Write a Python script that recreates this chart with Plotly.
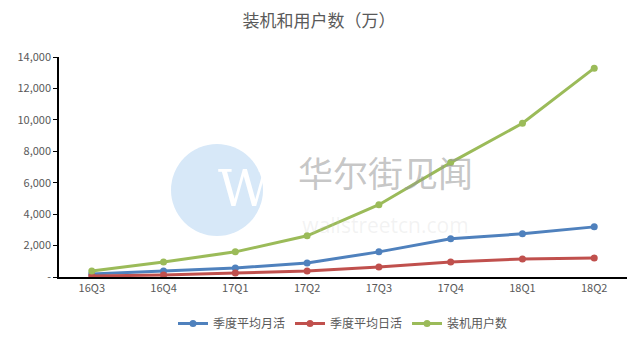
import plotly.graph_objects as go

quarters = ["16Q3", "16Q4", "17Q1", "17Q2", "17Q3", "17Q4", "18Q1", "18Q2"]
monthly_active = [190, 380, 575, 895, 1600, 2430, 2750, 3190]
daily_active = [60, 130, 250, 380, 640, 960, 1150, 1210]
installed_users = [380, 960, 1600, 2620, 4600, 7280, 9780, 13290]

y_ticks = [0, 2000, 4000, 6000, 8000, 10000, 12000, 14000]
y_tick_text = ["-", "2,000", "4,000", "6,000", "8,000", "10,000", "12,000", "14,000"]

series = [
    ("季度平均月活", monthly_active, "#4F81BD"),
    ("季度平均日活", daily_active, "#C0504D"),
    ("装机用户数", installed_users, "#9BBB59"),
]

font_family = "Noto Sans CJK SC, Microsoft YaHei, sans-serif"
text_color = "#595959"

# plot area in pixels
L, R, T, B = 59, 627, 57, 277
W_PX, H_PX = R - L, B - T


def px(x):
    return (x - L) / W_PX


def py(y):
    return (B - y) / H_PX


fig = go.Figure()
for name, values, color in series:
    fig.add_trace(go.Scatter(
        x=quarters, y=values, name=name, mode="lines+markers",
        line=dict(color=color, width=3),
        marker=dict(color=color, size=7),
    ))

# watermark: logo disc and two-line site name
fig.add_shape(type="circle", xref="paper", yref="paper",
              x0=px(171), x1=px(263), y0=py(236), y1=py(144),
              fillcolor="#d7e8f8", line=dict(width=0), layer="below")
fig.add_annotation(text="W", xref="paper", yref="paper",
                   x=px(216), y=py(189), showarrow=False,
                   font=dict(size=50, color="white", family="DejaVu Serif"))
fig.add_annotation(
    text=("华尔街见闻<br><span style='font-size:21px;font-family:Open Sans;"
          "color:rgba(200,200,200,0.4)'>wallstreetcn.com</span>"),
    xref="paper", yref="paper", x=px(385), y=py(192), showarrow=False,
    borderpad=0,
    font=dict(size=35, color="rgba(150,150,150,0.55)", family="Noto Sans CJK SC"),
)

fig.update_layout(
    width=638, height=342,
    margin=dict(l=L, r=638 - R, t=T, b=342 - B, autoexpand=False),
    paper_bgcolor="white", plot_bgcolor="rgba(0,0,0,0)",
    font=dict(family=font_family, color=text_color, size=11),
    title=dict(text="装机和用户数（万）", x=0.5, xanchor="center",
               y=0.955, yanchor="top",
               font=dict(size=17, color=text_color, family=font_family)),
    legend=dict(orientation="h", x=0.5, xanchor="center",
                yref="container", y=4 / 342, yanchor="bottom",
                font=dict(size=12, color=text_color)),
    showlegend=True,
)
fig.update_xaxes(
    showline=True, linecolor="black", linewidth=1.5,
    showgrid=False, ticks="", tickfont=dict(size=11, color=text_color),
)
fig.update_yaxes(
    range=[0, 14000], tickvals=y_ticks, ticktext=y_tick_text,
    showline=True, linecolor="black", linewidth=1.5,
    ticks="outside", ticklen=4, tickcolor="black",
    showgrid=False, zeroline=False, tickfont=dict(size=11, color=text_color),
)

fig.write_html("out.html")
